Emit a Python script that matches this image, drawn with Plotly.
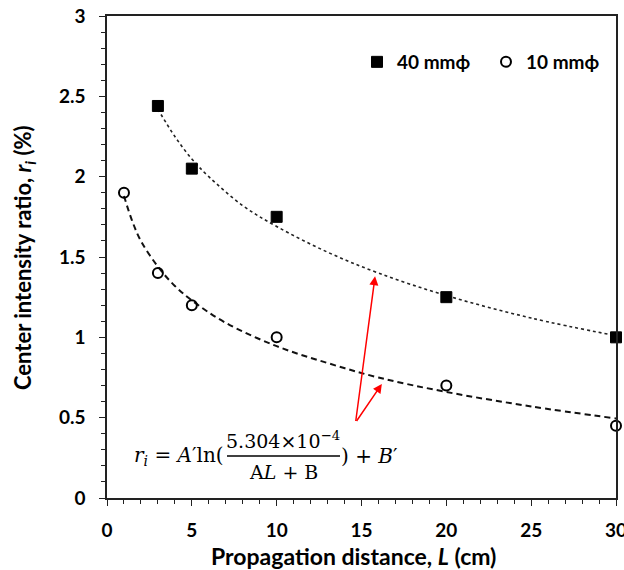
import plotly.graph_objects as go

# ---- data ----
x_40 = [3, 5, 10, 20, 30]
y_40 = [2.44, 2.05, 1.75, 1.25, 1.0]
x_10 = [1, 3, 5, 10, 20, 30]
y_10 = [1.9, 1.4, 1.2, 1.0, 0.7, 0.45]

# fitted trend curves
fit40_x = [3, 4, 5, 6, 8, 10, 13, 16, 20, 25, 30]
fit40_y = [2.42, 2.25, 2.11, 2.00, 1.82, 1.69, 1.53, 1.40, 1.26, 1.12, 1.01]
fit10_x = [1, 1.5, 2, 3, 4, 5, 7, 10, 13, 16, 20, 25, 30]
fit10_y = [1.88, 1.72, 1.60, 1.44, 1.32, 1.23, 1.09, 0.945, 0.84, 0.75, 0.66, 0.57, 0.495]

series_names = ["40 mmϕ", "10 mmϕ"]
x_ticks = [0, 5, 10, 15, 20, 25, 30]
y_ticks = [0, 0.5, 1, 1.5, 2, 2.5, 3]

# arrows: tail -> heads
arrow_tail = (14.65, 0.47)
arrow_heads = [(15.8, 1.38), (16.2, 0.71)]

W, H = 624, 570
L, R, T, B = 107, 8, 16, 72
pw, ph = W - L - R, H - T - B

def px(xp):
    return (xp - L) / pw

def py(yp):
    return (H - B - yp) / ph

FONT = "Lato"
fig = go.Figure()

fig.add_trace(go.Scatter(x=fit40_x, y=fit40_y, mode="lines", line_shape="spline",
                         line=dict(color="#222", width=1.6, dash="dot"), showlegend=False,
                         hoverinfo="skip"))
fig.add_trace(go.Scatter(x=fit10_x, y=fit10_y, mode="lines", line_shape="spline",
                         line=dict(color="#111", width=2, dash="6px,4px"), showlegend=False,
                         hoverinfo="skip"))
fig.add_trace(go.Scatter(x=x_40, y=y_40, mode="markers", name=series_names[0], legend="legend",
                         cliponaxis=False,
                         marker=dict(symbol="square", size=11, color="black",
                                     line=dict(color="black", width=1))))
fig.add_trace(go.Scatter(x=x_10, y=y_10, mode="markers", name=series_names[1], legend="legend2",
                         cliponaxis=False,
                         marker=dict(symbol="circle-open", size=10, color="black",
                                     line=dict(color="black", width=2))))

axis_common = dict(showgrid=False, zeroline=False, showline=True, linecolor="#222",
                   linewidth=1.5, mirror=True, ticks="outside", tickcolor="#222",
                   tickwidth=1.2, ticklen=6, ticklabeloverflow="allow", automargin=False,
                   tickfont=dict(family=FONT, size=19, color="black", weight="bold"))

fig.update_xaxes(range=[0, 30], tickvals=x_ticks, ticktext=[str(v) for v in x_ticks],
                 minor=dict(dtick=1, ticks="outside", ticklen=4, tickcolor="#222", tickwidth=1.2),
                 ticklabelstandoff=8, **axis_common)
fig.update_yaxes(range=[0, 3], tickvals=y_ticks, ticktext=[f"{v:g}" for v in y_ticks],
                 minor=dict(dtick=0.1, ticks="outside", ticklen=4, tickcolor="#222", tickwidth=1.2),
                 ticklabelstandoff=10, **axis_common)

annotations = []
# axis titles
annotations.append(dict(x=px(353), y=py(556), xref="paper", yref="paper", showarrow=False,
                        xanchor="center", yanchor="middle",
                        text="Propagation distance, <i>L</i> (cm)",
                        font=dict(family=FONT, size=23, color="black", weight="bold")))
annotations.append(dict(x=px(24), y=py(258), xref="paper", yref="paper", showarrow=False,
                        xanchor="center", yanchor="middle", textangle=-90,
                        text="Center intensity ratio, <i>r<sub>i</sub></i> (%)",
                        font=dict(family=FONT, size=22, color="black", weight="bold")))

# arrows
for hx, hy in arrow_heads:
    annotations.append(dict(x=hx, y=hy, ax=arrow_tail[0], ay=arrow_tail[1], xref="x", yref="y",
                            axref="x", ayref="y", showarrow=True, arrowhead=2, arrowsize=1.2,
                            arrowwidth=1.5, arrowcolor="red", text=""))

# formula
SF = "DejaVu Serif"
fs = 19
annotations.append(dict(x=px(226), y=py(456), xref="paper", yref="paper", showarrow=False,
                        xanchor="right", yanchor="middle",
                        text="<i>r<sub>i</sub></i> = <i>A</i>′ln(",
                        font=dict(family=SF, size=20, color="black")))
annotations.append(dict(x=px(283), y=py(440), xref="paper", yref="paper", showarrow=False,
                        xanchor="center", yanchor="middle",
                        text="5.304×10<sup>−4</sup>",
                        font=dict(family=SF, size=fs, color="black")))
annotations.append(dict(x=px(283), y=py(472), xref="paper", yref="paper", showarrow=False,
                        xanchor="center", yanchor="middle",
                        text="A<i>L</i> + B",
                        font=dict(family=SF, size=fs, color="black")))
annotations.append(dict(x=px(339), y=py(456), xref="paper", yref="paper", showarrow=False,
                        xanchor="left", yanchor="middle",
                        text=") + <i>B</i>′",
                        font=dict(family=SF, size=20, color="black")))

shapes = [dict(type="line", xref="paper", yref="paper", x0=px(227), x1=px(340),
               y0=py(456), y1=py(456), line=dict(color="black", width=1.3))]

leg_common = dict(orientation="h", yanchor="middle", bgcolor="rgba(0,0,0,0)",
                  itemsizing="trace",
                  font=dict(family=FONT, size=19, color="black", weight="bold"))

fig.update_layout(
    width=W, height=H, margin=dict(l=L, r=R, t=T, b=B, autoexpand=False),
    paper_bgcolor="white", plot_bgcolor="white",
    annotations=annotations, shapes=shapes,
    showlegend=True,
    legend=dict(x=px(357), y=py(62), xanchor="left", **leg_common),
    legend2=dict(x=px(486), y=py(62), xanchor="left", **leg_common),
)

fig.write_html("out.html", config={"displayModeBar": False},
               post_script="document.body.style.margin='0px';")
